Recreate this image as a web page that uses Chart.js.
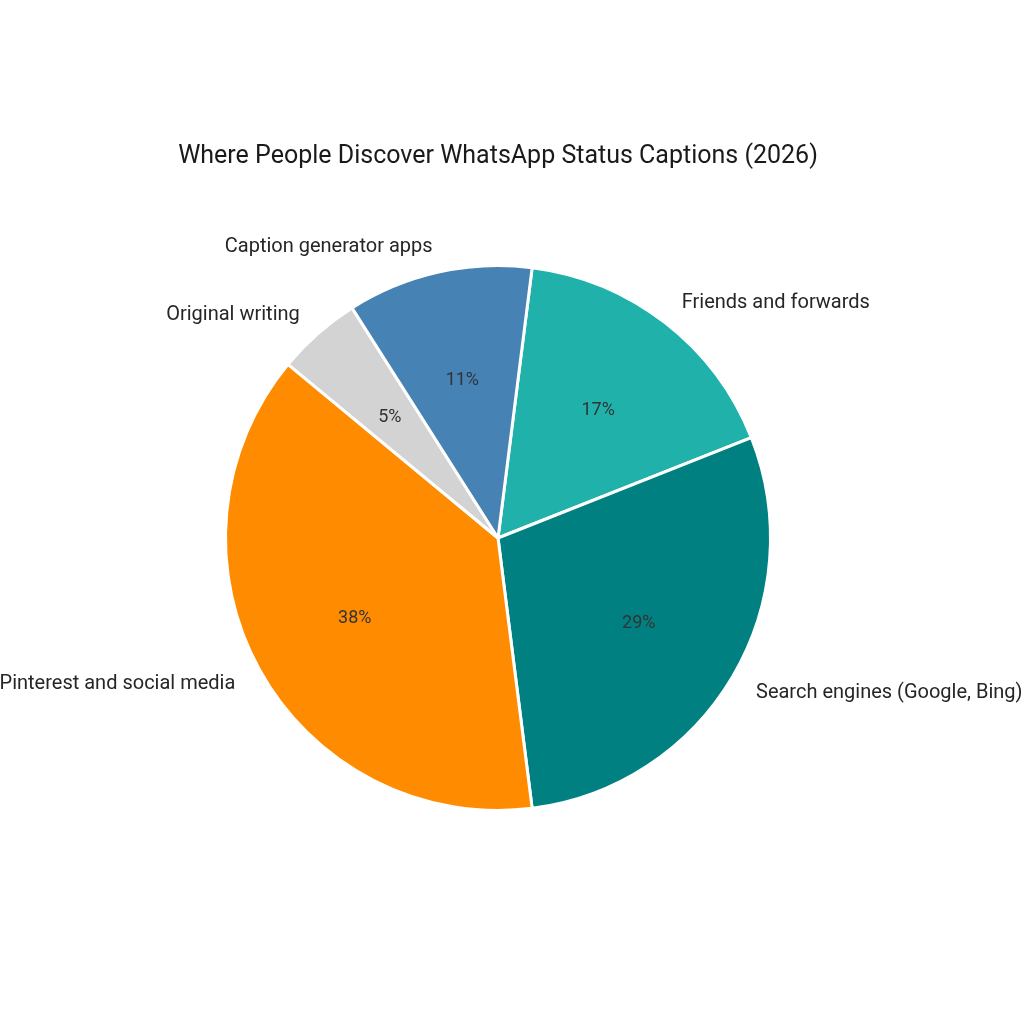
<!DOCTYPE html>
<html>
<head>
<meta charset="utf-8">
<script src="https://cdn.jsdelivr.net/npm/chart.js@4"></script>
<style>
  html, body { margin: 0; padding: 0; background: #ffffff; }
  #wrap { width: 1024px; height: 1024px; position: relative; }
</style>
</head>
<body>
<div id="wrap"><canvas id="c" width="1024" height="1024"></canvas></div>
<script>
const chartTitle = "Where People Discover WhatsApp Status Captions (2026)";
const categories = ["Friends and forwards", "Search engines (Google, Bing)", "Pinterest and social media", "Original writing", "Caption generator apps"];
const shares = [17, 29, 38, 5, 11];
const sliceColors = ["#20B2AA", "#008080", "#FF8C00", "#D3D3D3", "#4682B4"];

const FONT = "Roboto, 'Open Sans', sans-serif";

const labelPlugin = {
  id: 'pieLabels',
  afterDraw(chart) {
    const ctx = chart.ctx;
    const meta = chart.getDatasetMeta(0);
    const total = shares.reduce((a, b) => a + b, 0);
    ctx.save();
    // title
    ctx.fillStyle = '#1a1a1a';
    ctx.font = "25px " + FONT;
    ctx.textAlign = 'center';
    ctx.textBaseline = 'middle';
    ctx.fillText(chartTitle, 498, 157);
    meta.data.forEach((arc, i) => {
      const p = arc.getProps(['x', 'y', 'startAngle', 'endAngle', 'outerRadius'], true);
      const mid = (p.startAngle + p.endAngle) / 2;
      const cx = Math.cos(mid), cy = Math.sin(mid);
      // outer label
      const lx = p.x + cx * p.outerRadius * 1.1;
      const ly = p.y + cy * p.outerRadius * 1.1 + 2;
      ctx.font = "20px " + FONT;
      ctx.fillStyle = '#262626';
      ctx.textBaseline = 'middle';
      ctx.textAlign = cx >= 0 ? 'left' : 'right';
      ctx.fillText(categories[i], lx, ly);
      // percentage
      const px = p.x + cx * p.outerRadius * 0.6;
      const py = p.y + cy * p.outerRadius * 0.6 + 2;
      ctx.font = "18px " + FONT;
      ctx.fillStyle = '#333333';
      ctx.textAlign = 'center';
      ctx.fillText(Math.round(shares[i] / total * 100) + '%', px, py);
    });
    ctx.restore();
  }
};

new Chart(document.getElementById('c'), {
  type: 'pie',
  data: {
    labels: categories,
    datasets: [{
      data: shares,
      backgroundColor: sliceColors,
      borderColor: '#ffffff',
      borderWidth: 3
    }]
  },
  options: {
    responsive: false,
    animation: false,
    rotation: 7.2,
    layout: { padding: { left: 224, right: 252, top: 264, bottom: 212 } },
    plugins: {
      legend: { display: false },
      tooltip: { enabled: false },
      title: { display: false }
    }
  },
  plugins: [labelPlugin]
});
</script>
</body>
</html>
